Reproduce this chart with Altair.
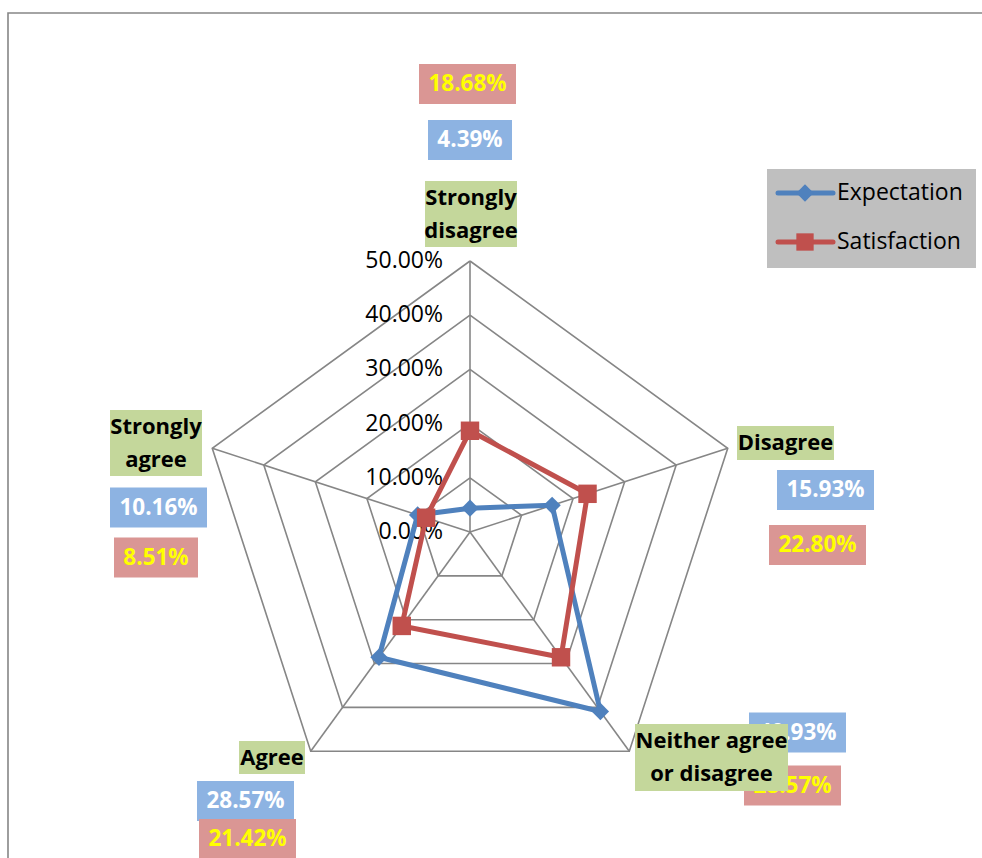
import math
import altair as alt
import pandas as pd

# ---- data -------------------------------------------------------------
categories = ["Strongly disagree", "Disagree", "Neither agree or disagree",
              "Agree", "Strongly agree"]
category_text = ["Strongly\ndisagree", "Disagree", "Neither agree\nor disagree",
                 "Agree", "Strongly\nagree"]
expectation = [4.39, 15.93, 40.93, 28.57, 10.16]
satisfaction = [18.68, 22.80, 28.57, 21.42, 8.51]
series_names = ["Expectation", "Satisfaction"]
ring_levels = [10, 20, 30, 40, 50]
tick_levels = [0, 10, 20, 30, 40, 50]

# ---- layout -----------------------------------------------------------
W, H = 982, 858
CX, CY = 470, 532          # pixel position of the radar centre
PX_PER_PCT = 5.42          # pixels per percentage point
BLUE, RED = "#4F81BD", "#C0504D"
GRID = "#868686"
FONT = "Open Sans"

# label boxes: (centre x, centre y, width, height) in pixels, per category
cat_boxes = [(471, 214, 92, 66), (785.5, 443, 97, 34), (711.5, 757.5, 153, 67),
             (272, 757.5, 66, 33), (156, 443, 92, 66)]
exp_boxes = [(470, 140, 84, 40), (825.5, 490, 97, 40), (797.5, 732.5, 97, 40),
             (245.5, 801, 97, 40), (158.5, 507.5, 97, 40)]
sat_boxes = [(467.5, 84, 97, 40), (817.5, 545, 97, 40), (792.5, 785.5, 97, 40),
             (247.5, 839, 97, 40), (156, 557.5, 84, 40)]


def polar(r, i):
    a = math.radians(90 - 72 * i)
    return r * math.cos(a), r * math.sin(a)


xscale = alt.Scale(domain=[-CX / PX_PER_PCT, (W - CX) / PX_PER_PCT], range=[0, W], nice=False, zero=False)
yscale = alt.Scale(domain=[-(H - CY) / PX_PER_PCT, CY / PX_PER_PCT], range=[H, 0], nice=False, zero=False)
X = lambda f: alt.X(f, type="quantitative", scale=xscale, axis=None)
Y = lambda f: alt.Y(f, type="quantitative", scale=yscale, axis=None)
PX = lambda f: alt.X(f, type="quantitative", scale=None, axis=None)
PY = lambda f: alt.Y(f, type="quantitative", scale=None, axis=None)

# ---- grid -------------------------------------------------------------
ring_rows = []
for lv in ring_levels:
    for k in range(6):
        x, y = polar(lv, k % 5)
        ring_rows.append({"level": lv, "k": k, "x": x, "y": y})
rings = alt.Chart(pd.DataFrame(ring_rows)).mark_line(color=GRID, strokeWidth=1.6).encode(
    x=X("x"), y=Y("y"), detail="level:N", order="k:Q")

spoke_rows = []
for i in range(5):
    x, y = polar(max(ring_levels), i)
    spoke_rows.append({"x0": 0, "y0": 0, "x": x, "y": y})
spokes = alt.Chart(pd.DataFrame(spoke_rows)).mark_rule(color=GRID, strokeWidth=1.6).encode(
    x=X("x0"), y=Y("y0"), x2="x", y2="y")

tick_df = pd.DataFrame({"x": [0] * len(tick_levels), "y": tick_levels,
                        "t": [f"{v:.2f}%" for v in tick_levels]})
ticks = alt.Chart(tick_df).mark_text(align="right", baseline="middle", dx=-27,
                                     font=FONT, fontSize=23, color="#000000").encode(
    x=X("x"), y=Y("y"), text="t:N")

# ---- series -----------------------------------------------------------
def series_layers(name, values, color, shape, size):
    rows = []
    for k in range(6):
        i = k % 5
        x, y = polar(values[i], i)
        rows.append({"series": name, "k": k, "x": x, "y": y})
    df = pd.DataFrame(rows)
    line = alt.Chart(df).mark_line(color=color, strokeWidth=5, strokeJoin="round").encode(
        x=X("x"), y=Y("y"), order="k:Q")
    pts = alt.Chart(df[df.k < 5]).mark_point(shape=shape, size=size, filled=True,
                                             color=color, opacity=1).encode(x=X("x"), y=Y("y"))
    return [line, pts]

exp_layers = series_layers("Expectation", expectation, BLUE, "diamond", 300)
sat_layers = series_layers("Satisfaction", satisfaction, RED, "square", 340)

# ---- labels -----------------------------------------------------------
def box_df(boxes, texts):
    return pd.DataFrame({
        "x1": [b[0] - b[2] / 2 for b in boxes], "x2": [b[0] + b[2] / 2 for b in boxes],
        "y1": [b[1] - b[3] / 2 for b in boxes], "y2": [b[1] + b[3] / 2 for b in boxes],
        "cx": [b[0] for b in boxes], "cy": [b[1] for b in boxes], "t": texts})

def label_layers(df, fill, text_color):
    r = alt.Chart(df).mark_rect(color=fill).encode(x=PX("x1"), x2="x2", y=PY("y1"), y2="y2")
    t = alt.Chart(df).mark_text(font=FONT, fontSize=22.5, fontWeight="bold", color=text_color,
                                align="center", baseline="middle").encode(
        x=PX("cx"), y=PY("cy"), text="t:N")
    return [r, t]

exp_df = box_df(exp_boxes, [f"{v:.2f}%" for v in expectation])
sat_df = box_df(sat_boxes, [f"{v:.2f}%" for v in satisfaction])
cat_df = box_df(cat_boxes, category_text)

labels = (label_layers(exp_df, "#8DB3E2", "#FFFFFF") +
          label_layers(sat_df, "#DA9694", "#FFFF00"))
cat_rect = alt.Chart(cat_df).mark_rect(color="#C4D79B").encode(
    x=PX("x1"), x2="x2", y=PY("y1"), y2="y2")
cat_text = alt.Chart(cat_df).transform_calculate(
    lines="split(datum.t, '\\n')",
    shift="length(split(datum.t, '\\n')) > 1 ? -16.5 : 0",
    ty="datum.cy + datum.shift").mark_text(
    font=FONT, fontSize=22, fontWeight="bold", color="#000000", align="center",
    baseline="middle", lineHeight=33).encode(x=PX("cx"), y=PY("ty"), text="lines:N")

# ---- legend -----------------------------------------------------------
leg_box = alt.Chart(pd.DataFrame({"x1": [767], "x2": [976], "y1": [169], "y2": [268]})).mark_rect(
    color="#BFBFBF").encode(x=PX("x1"), x2="x2", y=PY("y1"), y2="y2")
leg_df = pd.DataFrame({"name": series_names, "y": [193, 242],
                       "xa": [778, 778], "xb": [833, 833], "xm": [805, 805], "xt": [837, 837]})
leg_lines = alt.Chart(leg_df).mark_rule(strokeWidth=5, strokeCap="round").encode(
    x=PX("xa"), x2="xb", y=PY("y"),
    color=alt.Color("name:N", scale=alt.Scale(domain=series_names, range=[BLUE, RED]), legend=None))
leg_marks = alt.Chart(leg_df).mark_point(filled=True, opacity=1, size=300).encode(
    x=PX("xm"), y=PY("y"),
    shape=alt.Shape("name:N", scale=alt.Scale(domain=series_names, range=["diamond", "square"]), legend=None),
    color=alt.Color("name:N", scale=alt.Scale(domain=series_names, range=[BLUE, RED]), legend=None))
leg_text = alt.Chart(leg_df).mark_text(align="left", baseline="middle", font=FONT, fontSize=23,
                                       color="#000000").encode(x=PX("xt"), y=PY("y"), text="name:N")

# ---- chart-area border --------------------------------------------------
border = alt.Chart(pd.DataFrame({"a": [0]})).mark_rect(
    fill=None, stroke=GRID, strokeWidth=1.6).encode(
    x=alt.value(8), y=alt.value(13), x2=alt.value(W + 20), y2=alt.value(H + 20))

chart = alt.layer(
    border, rings, spokes, ticks, *exp_layers, *sat_layers, *labels, cat_rect, cat_text,
    leg_box, leg_lines, leg_marks, leg_text
).properties(
    width=W, height=H, autosize=alt.AutoSizeParams(type="none"), padding=0, background="#FFFFFF"
).configure_view(stroke=None)

chart.save("out.html", embed_options={"renderer": "svg", "actions": False})
